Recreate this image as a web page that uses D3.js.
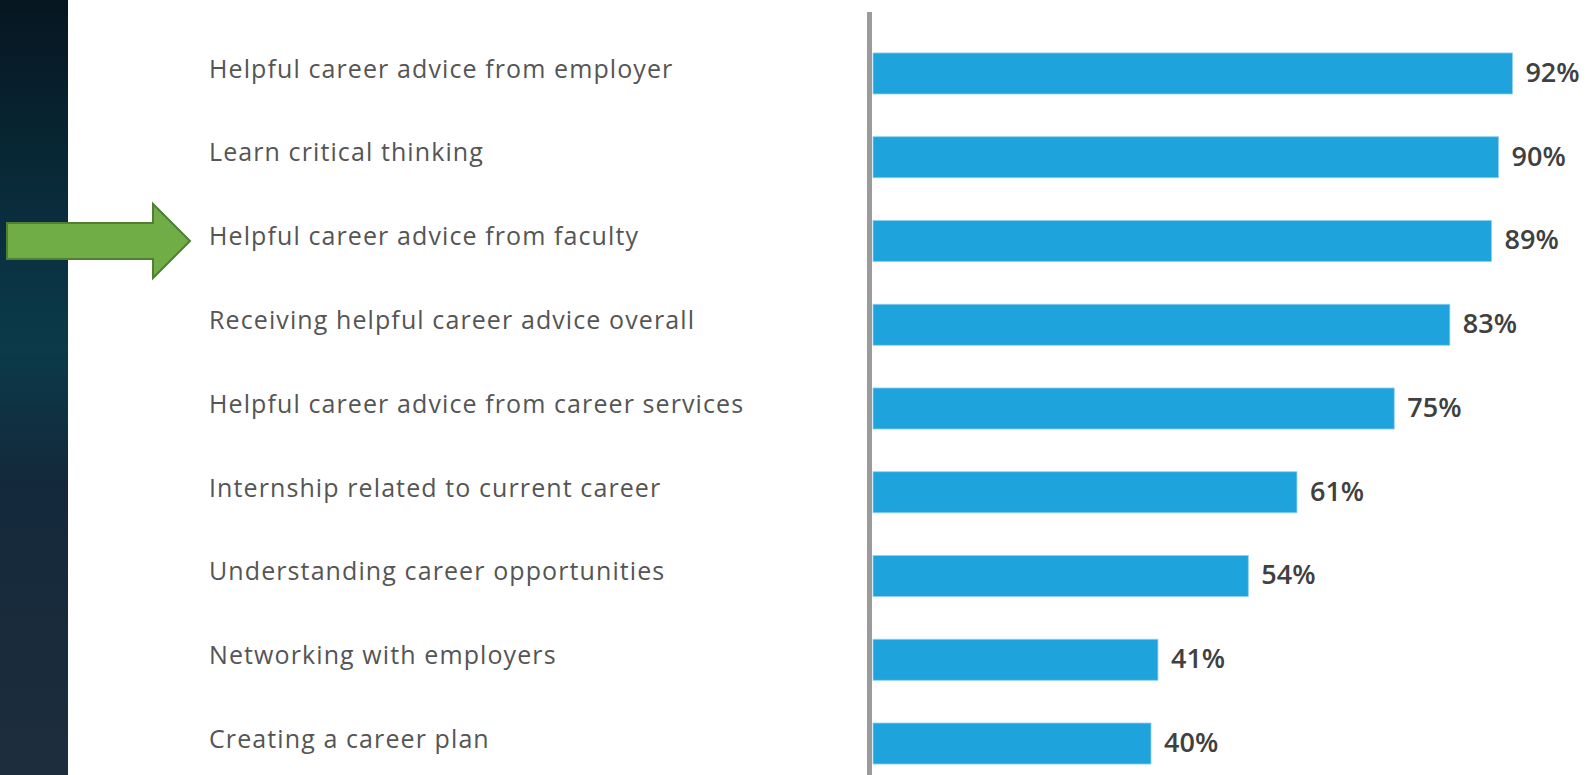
<!DOCTYPE html>
<html>
<head>
<meta charset="utf-8">
<script src="https://cdn.jsdelivr.net/npm/d3@7"></script>
<style>
  html, body { margin: 0; padding: 0; background: #fff; }
  svg { display: block; }
</style>
</head>
<body>
<svg id="chart"></svg>
<script>
var categories = [
  "Helpful career advice from employer",
  "Learn critical thinking",
  "Helpful career advice from faculty",
  "Receiving helpful career advice overall",
  "Helpful career advice from career services",
  "Internship related to current career",
  "Understanding career opportunities",
  "Networking with employers",
  "Creating a career plan"
];
var values = [92, 90, 89, 83, 75, 61, 54, 41, 40];
var highlighted = "Helpful career advice from faculty";

var width = 1596;
var height = 775;

var svg = d3.select("#chart")
  .attr("width", width)
  .attr("height", height);

// dark strip on the left
var defs = svg.append("defs");
var grad = defs.append("linearGradient")
  .attr("id", "strip")
  .attr("x1", 0).attr("y1", 0).attr("x2", 0).attr("y2", 1);
[["0", "#061620"], ["0.3", "#0a2f3f"], ["0.45", "#0b3a49"], ["0.62", "#13293b"], ["1", "#1e2d3c"]]
  .forEach(function(s) {
    grad.append("stop").attr("offset", s[0]).attr("stop-color", s[1]);
  });
svg.append("rect")
  .attr("x", 0).attr("y", 0)
  .attr("width", 68).attr("height", height)
  .attr("fill", "url(#strip)");

var data = categories.map(function(c, i) {
  return { name: c, value: values[i] };
});

var x = d3.scaleLinear()
  .domain([0, 100])
  .range([873, 873 + 695]);

var y = d3.scaleBand()
  .domain(categories)
  .range([31.6, 785.4])
  .paddingInner(0.51)
  .paddingOuter(0.255);

// bars
svg.append("g")
  .selectAll("rect")
  .data(data)
  .enter().append("rect")
  .attr("x", x(0))
  .attr("y", function(d) { return y(d.name); })
  .attr("width", function(d) { return x(d.value) - x(0); })
  .attr("height", y.bandwidth())
  .attr("fill", "#1fa3dc")
  .attr("stroke", "#8fd0ef")
  .attr("stroke-width", 0.8);

// vertical axis line
svg.append("line")
  .attr("x1", x(0) - 3.5).attr("x2", x(0) - 3.5)
  .attr("y1", 12).attr("y2", height)
  .attr("stroke", "#9b9b9b")
  .attr("stroke-width", 5);

// category labels
svg.append("g")
  .selectAll("text")
  .data(data)
  .enter().append("text")
  .attr("x", 209)
  .attr("y", function(d) { return y(d.name) + y.bandwidth() / 2 - 4.5; })
  .attr("dy", "0.35em")
  .attr("font-family", "'Open Sans', sans-serif")
  .attr("font-size", 25)
  .attr("letter-spacing", 1.1)
  .attr("fill", "#555")
  .text(function(d) { return d.name; });

// value labels
svg.append("g")
  .selectAll("text")
  .data(data)
  .enter().append("text")
  .attr("x", function(d) { return x(d.value) + 13; })
  .attr("y", function(d) { return y(d.name) + y.bandwidth() / 2 - 1; })
  .attr("dy", "0.35em")
  .attr("font-family", "'Open Sans', sans-serif")
  .attr("font-weight", 600)
  .attr("font-size", 27)
  .attr("fill", "#404040")
  .text(function(d) { return d.value + "%"; });

// green arrow pointing at the highlighted row
var cy = y(highlighted) + y.bandwidth() / 2;
var arrow = [
  [7, cy - 18], [153, cy - 18], [153, cy - 37], [190, cy],
  [153, cy + 37], [153, cy + 18], [7, cy + 18]
];
svg.append("path")
  .attr("d", d3.line()(arrow) + "Z")
  .attr("fill", "#70ad47")
  .attr("stroke", "#507e32")
  .attr("stroke-width", 2);
</script>
</body>
</html>
